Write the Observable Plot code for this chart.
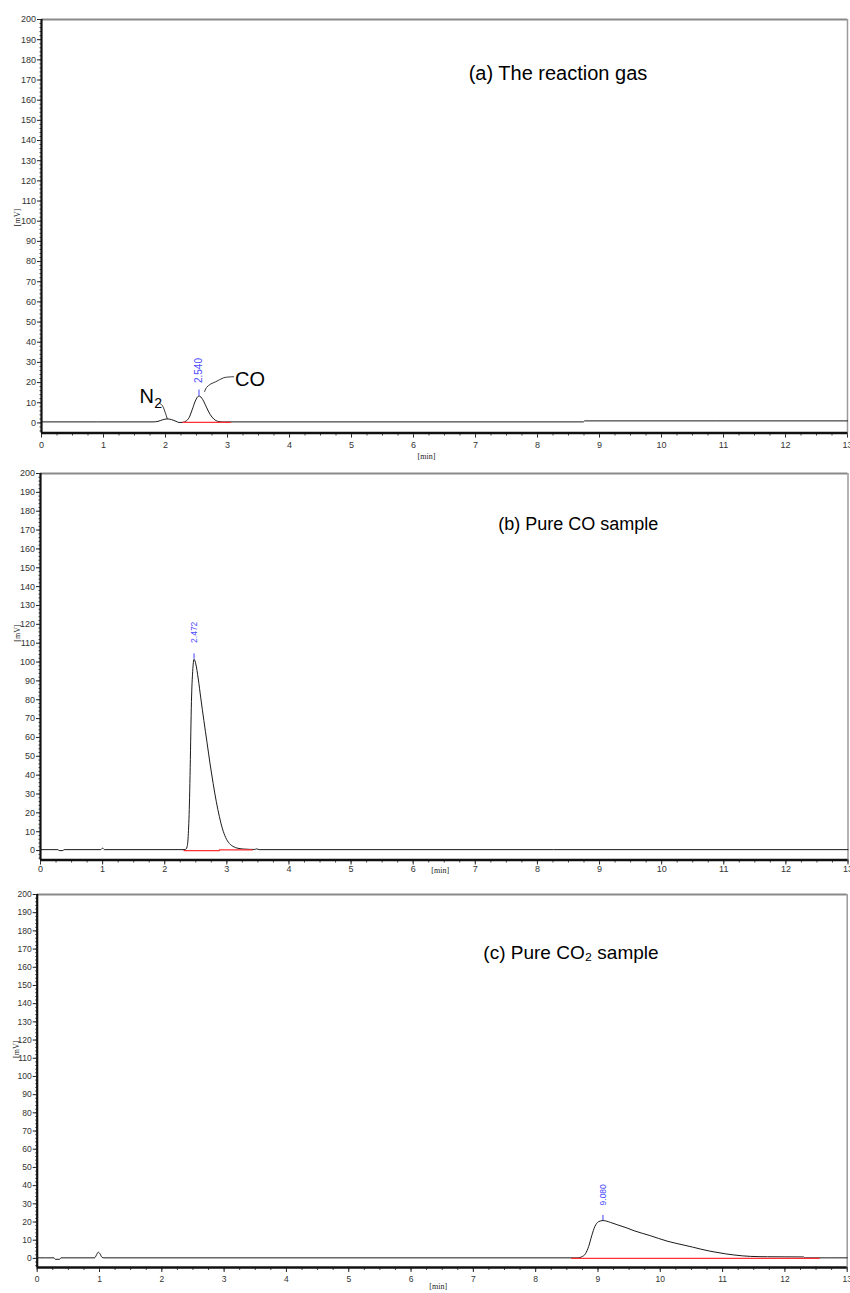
<!DOCTYPE html>
<html><head><meta charset="utf-8">
<script src="https://cdn.jsdelivr.net/npm/d3@7"></script>
<script src="https://cdn.jsdelivr.net/npm/@observablehq/plot@0.6"></script>
<style>
body{margin:0;background:#fff}
#chart{width:850px;height:1293px;overflow:hidden}
#chart svg{display:block}
</style>
</head><body><div id="chart"></div>
<script>
// ---------- tick labels ----------
const xTicks = [0,1,2,3,4,5,6,7,8,9,10,11,12,13];
const yTicks = [0,10,20,30,40,50,60,70,80,90,100,110,120,130,140,150,160,170,180,190,200];

// ---------- signal traces (time [min], signal [mV]) ----------
const traceA = [
  [0,0.5],[1.80,0.5],[1.88,0.8],[1.95,1.5],[2.03,2.0],[2.10,1.6],[2.17,0.8],[2.22,0.2],[2.28,0.3],
  [2.33,0.9],[2.38,2.6],[2.43,6.5],[2.48,10.8],[2.54,13.4],[2.60,11.6],[2.66,7.8],[2.72,4.2],
  [2.78,1.9],[2.84,0.8],[2.92,0.5],[8.74,0.5],[8.76,1.0],[13,1.0]
];
const traceB = [
  [0,0.5],[0.28,0.5],[0.30,0.0],[0.36,0.0],[0.38,0.5],[0.97,0.5],[1.00,1.3],[1.03,0.5],
  [2.33,0.5],[2.36,2],[2.38,9],[2.40,28],[2.41,44],[2.43,79],[2.45,95],[2.472,101.5],[2.50,99],
  [2.54,91],[2.58,81],[2.63,69],[2.68,57.5],[2.73,46],[2.78,35.5],[2.83,26],[2.88,18],[2.93,11.5],
  [2.98,7],[3.04,3.8],[3.10,2.2],[3.18,1.2],[3.28,0.8],[3.45,0.6],[3.48,0.9],[3.52,0.5],[13,0.5]
];
const traceC = [
  [0,0.3],[0.27,0.3],[0.29,-0.5],[0.36,-0.5],[0.38,0.3],[0.92,0.3],[0.95,1.8],[0.98,3.4],[1.01,2.4],
  [1.04,0.6],[1.07,0.3],[8.68,0.3],[8.74,0.9],[8.80,2.6],[8.85,6.5],[8.90,12.5],[8.95,17.5],
  [9.01,20.2],[9.08,20.8],[9.20,19.8],[9.31,18.5],[9.45,16.9],[9.58,15.2],[9.71,13.8],[9.84,12.5],
  [9.97,11],[10.11,9.5],[10.25,8.3],[10.38,7.3],[10.52,6.2],[10.65,5.1],[10.78,4.1],[10.91,3.3],
  [11.05,2.5],[11.18,1.9],[11.32,1.4],[11.45,1.1],[11.60,0.95],[11.72,0.9],[12.0,0.85],[12.3,0.8],
  [12.32,0.3],[13,0.3]
];

// ---------- integration baselines (red) ----------
const redA = [[[2.28,0.3],[3.05,0.3]]];
const redB = [[[2.31,0],[2.88,0]], [[2.88,0.35],[3.41,0.35]]];
const redC = [[[8.58,0],[12.55,0]]];

// ---------- peak retention-time labels ----------
const peaksA = [{t:2.54, v:13.4, top:16.3, label:"2.540"}];
const peaksB = [{t:2.472, v:101.5, top:104.3, label:"2.472"}];
const peaksC = [{t:9.08, v:20.8, top:23.6, label:"9.080"}];

// ---------- annotations ----------
const titleA = [{t:6.89, v:173, text:"(a) The reaction gas"}];
const titleB = [{t:7.37, v:173, text:"(b) Pure CO sample"}];
const titleC = [{t:7.16, v:168, text:"(c) Pure CO\u2082 sample"}];
const n2Label = [{t:1.58, v:13.0, text:"N"}];
const n2Sub = [{t:1.82, v:9.5, text:"2"}];
const coLabel = [{t:3.12, v:21.5, text:"CO"}];
const n2Leader = [[1.90,9.9],[1.95,8.6],[1.98,6.5],[2.03,2.0]];
const coLeader = [[3.10,22.9],[2.94,22.4],[2.81,20.4],[2.73,19.3],[2.66,17.5],[2.63,15.5]];

const xMinor = d3.range(0, 13.001, 0.25);
const yMinor = d3.range(-4, 200.001, 2);

const tickFont = "'Liberation Sans Narrow','Liberation Sans',Arial,sans-serif";
const labelFont = "'Liberation Serif','DejaVu Serif',serif";
const textFont = "'Liberation Sans',Arial,sans-serif";

function panel(o) {
  const pts = o.trace.map(([t, v]) => ({t, v}));
  const reds = o.red.flatMap((seg, k) => seg.map(([t, v]) => ({t, v, k})));
  return Plot.plot({
    width: 850,
    height: o.height,
    marginTop: o.mt, marginBottom: o.mb, marginLeft: o.ml, marginRight: o.mr,
    x: {domain: [0, 13]},
    y: {domain: [-5, 200]},
    style: {fontFamily: tickFont, fontSize: o.tickSize + "px", color: "#333", background: "#fff", overflow: "visible"},
    marks: [
      Plot.ruleY([200], {stroke: "#8a8a8a", strokeWidth: 2}),
      Plot.ruleX([13], {stroke: "#9a9a9a", strokeWidth: 1.5}),
      Plot.axisY(yTicks, {tickSize: 4, tickPadding: 1.5, label: null, stroke: "#222", fill: "#333"}),
      Plot.axisY(yMinor, {tickSize: 1.5, text: null, label: null, stroke: "#444"}),
      Plot.axisX(xTicks, {tickSize: 5, tickPadding: o.xPad, label: null, stroke: "#222", fill: "#333"}),
      Plot.axisX(xMinor, {tickSize: 3, text: null, label: null, stroke: "#444"}),
      Plot.ruleX([0], {stroke: "#111", strokeWidth: 2.2}),
      Plot.ruleY([-5], {stroke: "#111", strokeWidth: 2.4}),
      Plot.text(["[mV]"], {frameAnchor: "left", rotate: -90, dx: o.mvDx, dy: o.mvDy, fontFamily: labelFont, fontSize: 8, fill: "#222"}),
      Plot.text(["[min]"], {frameAnchor: "bottom", dx: o.minDx, dy: o.minDy, fontFamily: labelFont, fontSize: 8, fill: "#222"}),
      Plot.line(pts, {x: "t", y: "v", stroke: "#1a1a1a", strokeWidth: 1, curve: "monotone-x"}),
      Plot.line(reds, {x: "t", y: "v", z: "k", stroke: "#ff3030", strokeWidth: 1.3}),
      Plot.ruleX(o.peaks, {x: "t", y1: "v", y2: "top", stroke: "#4040ff", strokeWidth: 1}),
      Plot.text(o.peaks, {x: "t", y: "top", text: "label", rotate: -90, textAnchor: "start", dy: -o.peakGap, fill: "#4a4aff", fontSize: o.peakSize, fontFamily: textFont}),
      Plot.text(o.title, {x: "t", y: "v", text: "text", textAnchor: "start", fill: "#000", fontSize: o.titleSize, fontFamily: textFont}),
      ...(o.extra || [])
    ]
  });
}

const chart = document.getElementById("chart");

chart.append(panel({
  trace: traceA, red: redA, peaks: peaksA, title: titleA,
  height: 463, mt: 19, mb: 30.5, ml: 41, mr: 3,
  tickSize: 9, xPad: 4, peakSize: 10, peakGap: 7, titleSize: 20,
  mvDx: -24, mvDy: 0, minDx: -18, minDy: 26,
  extra: [
    Plot.line(n2Leader.map(([t, v]) => ({t, v})), {x: "t", y: "v", stroke: "#333", strokeWidth: 1, curve: "catmull-rom"}),
    Plot.line(coLeader.map(([t, v]) => ({t, v})), {x: "t", y: "v", stroke: "#333", strokeWidth: 1, curve: "catmull-rom"}),
    Plot.text(n2Label, {x: "t", y: "v", text: "text", textAnchor: "start", fontSize: 20, fontFamily: textFont, fill: "#000"}),
    Plot.text(n2Sub, {x: "t", y: "v", text: "text", textAnchor: "start", fontSize: 14, fontFamily: textFont, fill: "#000"}),
    Plot.text(coLabel, {x: "t", y: "v", text: "text", textAnchor: "start", fontSize: 20, fontFamily: textFont, fill: "#000"})
  ]
}));

chart.append(panel({
  trace: traceB, red: redB, peaks: peaksB, title: titleB,
  height: 421, mt: 10, mb: 24.5, ml: 40, mr: 2.5,
  tickSize: 9, xPad: 1, peakSize: 8.5, peakGap: 11, titleSize: 18,
  mvDx: -23, mvDy: -25, minDx: -4, minDy: 13,
}));

chart.append(panel({
  trace: traceC, red: redC, peaks: peaksC, title: titleC,
  height: 409, mt: 10, mb: 26, ml: 36.7, mr: 3.3,
  tickSize: 8.5, xPad: 3, peakSize: 8.5, peakGap: 10, titleSize: 19,
  mvDx: -21, mvDy: -23, minDx: -4, minDy: 21,
}));
</script>
</body></html>
